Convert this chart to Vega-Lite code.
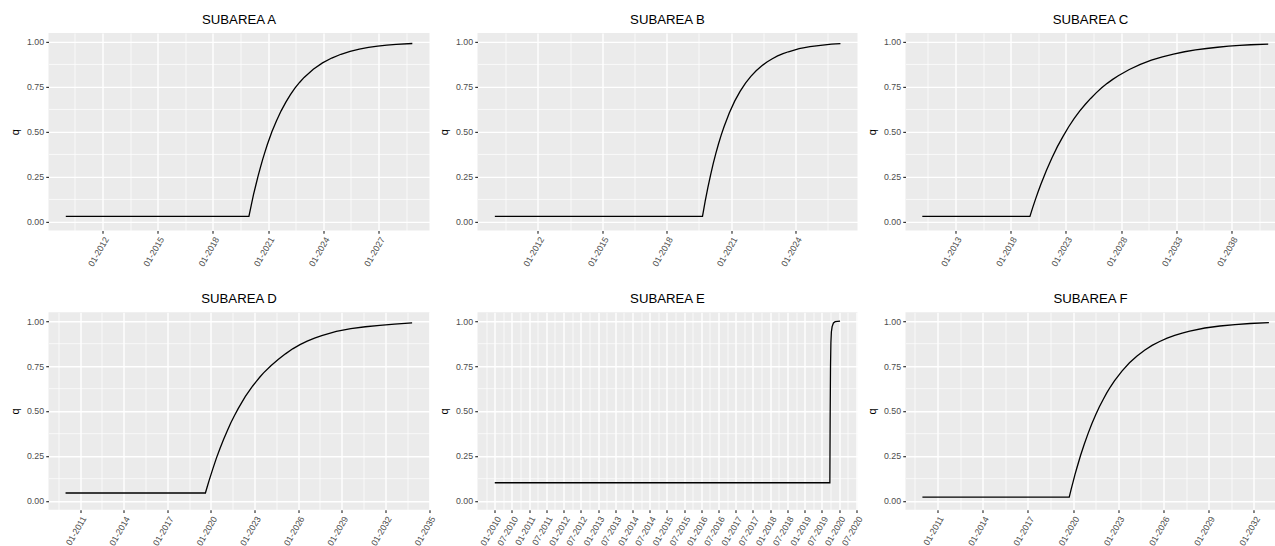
{
  "$schema": "https://vega.github.io/schema/vega-lite/v6.json",
  "background": "white",
  "padding": {"left": 9.5, "top": 12.9, "right": 0, "bottom": 0},
  "autosize": {"type": "pad"},
  "columns": 3,
  "spacing": {"row": 81.3, "column": 48},
  "bounds": "flush",
  "align": "each",
  "datasets": {
    "A": [
      {"date": "2010-01-01T00:00", "q": 0.028},
      {"date": "2019-12-15T00:00", "q": 0.028},
      {"date": "2020-01-30T00:00", "q": 0.090},
      {"date": "2020-03-15T00:00", "q": 0.149},
      {"date": "2020-05-01T00:00", "q": 0.203},
      {"date": "2020-06-15T00:00", "q": 0.254},
      {"date": "2020-08-01T00:00", "q": 0.302},
      {"date": "2020-09-15T00:00", "q": 0.347},
      {"date": "2020-10-31T00:00", "q": 0.389},
      {"date": "2020-12-15T00:00", "q": 0.428},
      {"date": "2021-03-15T00:00", "q": 0.499},
      {"date": "2021-06-15T00:00", "q": 0.561},
      {"date": "2021-09-15T00:00", "q": 0.616},
      {"date": "2021-12-15T00:00", "q": 0.663},
      {"date": "2022-03-15T00:00", "q": 0.705},
      {"date": "2022-06-15T00:00", "q": 0.742},
      {"date": "2022-09-15T00:00", "q": 0.774},
      {"date": "2022-12-15T00:00", "q": 0.802},
      {"date": "2023-06-15T00:00", "q": 0.848},
      {"date": "2023-12-15T00:00", "q": 0.883},
      {"date": "2024-06-15T00:00", "q": 0.910},
      {"date": "2024-12-15T00:00", "q": 0.931},
      {"date": "2025-06-15T00:00", "q": 0.947},
      {"date": "2025-12-15T00:00", "q": 0.960},
      {"date": "2026-06-15T00:00", "q": 0.969},
      {"date": "2026-12-15T00:00", "q": 0.976},
      {"date": "2027-06-15T00:00", "q": 0.982},
      {"date": "2027-12-15T00:00", "q": 0.986},
      {"date": "2028-11-01T00:00", "q": 0.991}
    ],
    "B": [
      {"date": "2010-01-01T00:00", "q": 0.028},
      {"date": "2019-09-01T00:00", "q": 0.028},
      {"date": "2019-10-16T00:00", "q": 0.112},
      {"date": "2019-12-01T00:00", "q": 0.188},
      {"date": "2020-01-16T00:00", "q": 0.258},
      {"date": "2020-03-01T00:00", "q": 0.322},
      {"date": "2020-04-16T00:00", "q": 0.380},
      {"date": "2020-06-01T00:00", "q": 0.434},
      {"date": "2020-07-16T00:00", "q": 0.482},
      {"date": "2020-09-01T00:00", "q": 0.527},
      {"date": "2020-12-01T00:00", "q": 0.605},
      {"date": "2021-03-01T00:00", "q": 0.670},
      {"date": "2021-06-01T00:00", "q": 0.724},
      {"date": "2021-09-01T00:00", "q": 0.770},
      {"date": "2021-12-01T00:00", "q": 0.808},
      {"date": "2022-03-01T00:00", "q": 0.839},
      {"date": "2022-06-01T00:00", "q": 0.866},
      {"date": "2022-09-01T00:00", "q": 0.888},
      {"date": "2022-12-01T00:00", "q": 0.906},
      {"date": "2023-03-01T00:00", "q": 0.922},
      {"date": "2023-06-01T00:00", "q": 0.935},
      {"date": "2023-09-01T00:00", "q": 0.945},
      {"date": "2024-03-01T00:00", "q": 0.962},
      {"date": "2024-09-01T00:00", "q": 0.973},
      {"date": "2025-03-01T00:00", "q": 0.981},
      {"date": "2025-09-01T00:00", "q": 0.987},
      {"date": "2026-02-01T00:00", "q": 0.990}
    ],
    "C": [
      {"date": "2010-01-01T00:00", "q": 0.028},
      {"date": "2019-10-01T00:00", "q": 0.028},
      {"date": "2020-01-01T00:00", "q": 0.077},
      {"date": "2020-04-01T00:00", "q": 0.123},
      {"date": "2020-07-01T00:00", "q": 0.167},
      {"date": "2020-10-01T00:00", "q": 0.208},
      {"date": "2021-04-01T00:00", "q": 0.285},
      {"date": "2021-10-01T00:00", "q": 0.355},
      {"date": "2022-04-01T00:00", "q": 0.418},
      {"date": "2022-10-01T00:00", "q": 0.474},
      {"date": "2023-04-01T00:00", "q": 0.526},
      {"date": "2023-10-01T00:00", "q": 0.572},
      {"date": "2024-04-01T00:00", "q": 0.614},
      {"date": "2024-10-01T00:00", "q": 0.651},
      {"date": "2025-04-01T00:00", "q": 0.685},
      {"date": "2025-10-01T00:00", "q": 0.716},
      {"date": "2026-04-01T00:00", "q": 0.744},
      {"date": "2026-10-01T00:00", "q": 0.769},
      {"date": "2027-04-01T00:00", "q": 0.791},
      {"date": "2027-10-01T00:00", "q": 0.811},
      {"date": "2028-10-01T00:00", "q": 0.846},
      {"date": "2029-10-01T00:00", "q": 0.875},
      {"date": "2030-10-01T00:00", "q": 0.898},
      {"date": "2031-10-01T00:00", "q": 0.917},
      {"date": "2032-10-01T00:00", "q": 0.932},
      {"date": "2033-10-01T00:00", "q": 0.945},
      {"date": "2034-10-01T00:00", "q": 0.955},
      {"date": "2035-10-01T00:00", "q": 0.963},
      {"date": "2036-10-01T00:00", "q": 0.970},
      {"date": "2037-10-01T00:00", "q": 0.976},
      {"date": "2038-10-01T00:00", "q": 0.980},
      {"date": "2039-10-01T00:00", "q": 0.984},
      {"date": "2041-05-01T00:00", "q": 0.988}
    ],
    "D": [
      {"date": "2010-01-01T00:00", "q": 0.043},
      {"date": "2019-08-15T00:00", "q": 0.043},
      {"date": "2019-09-30T00:00", "q": 0.078},
      {"date": "2019-11-15T00:00", "q": 0.112},
      {"date": "2020-02-15T00:00", "q": 0.176},
      {"date": "2020-05-15T00:00", "q": 0.236},
      {"date": "2020-08-15T00:00", "q": 0.291},
      {"date": "2020-11-15T00:00", "q": 0.342},
      {"date": "2021-02-15T00:00", "q": 0.390},
      {"date": "2021-05-15T00:00", "q": 0.434},
      {"date": "2021-08-15T00:00", "q": 0.475},
      {"date": "2021-11-15T00:00", "q": 0.513},
      {"date": "2022-02-15T00:00", "q": 0.548},
      {"date": "2022-05-15T00:00", "q": 0.581},
      {"date": "2022-08-15T00:00", "q": 0.611},
      {"date": "2022-11-15T00:00", "q": 0.639},
      {"date": "2023-02-15T00:00", "q": 0.665},
      {"date": "2023-05-15T00:00", "q": 0.689},
      {"date": "2023-08-15T00:00", "q": 0.712},
      {"date": "2024-02-15T00:00", "q": 0.752},
      {"date": "2024-08-15T00:00", "q": 0.786},
      {"date": "2025-02-15T00:00", "q": 0.818},
      {"date": "2025-08-15T00:00", "q": 0.846},
      {"date": "2026-02-15T00:00", "q": 0.869},
      {"date": "2026-08-15T00:00", "q": 0.889},
      {"date": "2027-02-15T00:00", "q": 0.906},
      {"date": "2027-08-15T00:00", "q": 0.920},
      {"date": "2028-08-15T00:00", "q": 0.943},
      {"date": "2029-08-15T00:00", "q": 0.958},
      {"date": "2030-08-15T00:00", "q": 0.969},
      {"date": "2031-08-15T00:00", "q": 0.977},
      {"date": "2032-08-15T00:00", "q": 0.983},
      {"date": "2033-11-01T00:00", "q": 0.990}
    ],
    "E": [
      {"date": "2010-01-01T00:00", "q": 0.1},
      {"date": "2019-09-24T00:00", "q": 0.1},
      {"date": "2019-09-27T00:00", "q": 0.45},
      {"date": "2019-10-01T00:00", "q": 0.75},
      {"date": "2019-10-05T00:00", "q": 0.88},
      {"date": "2019-10-10T00:00", "q": 0.94},
      {"date": "2019-10-18T00:00", "q": 0.97},
      {"date": "2019-11-01T00:00", "q": 0.99},
      {"date": "2019-11-20T00:00", "q": 0.997},
      {"date": "2019-12-15T00:00", "q": 0.999},
      {"date": "2020-01-10T00:00", "q": 1.0}
    ],
    "F": [
      {"date": "2010-01-01T00:00", "q": 0.02},
      {"date": "2019-10-01T00:00", "q": 0.02},
      {"date": "2019-11-16T00:00", "q": 0.063},
      {"date": "2020-01-01T00:00", "q": 0.104},
      {"date": "2020-02-15T00:00", "q": 0.144},
      {"date": "2020-04-01T00:00", "q": 0.181},
      {"date": "2020-07-01T00:00", "q": 0.252},
      {"date": "2020-10-01T00:00", "q": 0.316},
      {"date": "2021-01-01T00:00", "q": 0.375},
      {"date": "2021-04-01T00:00", "q": 0.429},
      {"date": "2021-07-01T00:00", "q": 0.478},
      {"date": "2021-10-01T00:00", "q": 0.523},
      {"date": "2022-01-01T00:00", "q": 0.564},
      {"date": "2022-04-01T00:00", "q": 0.602},
      {"date": "2022-07-01T00:00", "q": 0.636},
      {"date": "2022-10-01T00:00", "q": 0.667},
      {"date": "2023-04-01T00:00", "q": 0.722},
      {"date": "2023-10-01T00:00", "q": 0.768},
      {"date": "2024-04-01T00:00", "q": 0.806},
      {"date": "2024-10-01T00:00", "q": 0.838},
      {"date": "2025-04-01T00:00", "q": 0.865},
      {"date": "2025-10-01T00:00", "q": 0.887},
      {"date": "2026-04-01T00:00", "q": 0.906},
      {"date": "2026-10-01T00:00", "q": 0.921},
      {"date": "2027-04-01T00:00", "q": 0.934},
      {"date": "2027-10-01T00:00", "q": 0.945},
      {"date": "2028-10-01T00:00", "q": 0.962},
      {"date": "2029-10-01T00:00", "q": 0.973},
      {"date": "2030-10-01T00:00", "q": 0.981},
      {"date": "2031-10-01T00:00", "q": 0.987},
      {"date": "2033-01-01T00:00", "q": 0.992}
    ]
  },
  "concat": [
    {
      "title": "SUBAREA A",
      "width": 381, "height": 197.5,
      "data": {"name": "A"},
      "mark": {"type": "line", "color": "#000000", "strokeWidth": 1.3},
      "encoding": {
        "x": {"field": "date", "type": "temporal", "title": null,
          "scale": {"domain": [{"year": 2009, "month": 1, "date": 23}, {"year": 2029, "month": 10, "date": 8}], "nice": false},
          "axis": {
            "values": [{"year": 2010, "month": 7, "date": 2}, {"year": 2012, "month": 1, "date": 1}, {"year": 2013, "month": 7, "date": 2}, {"year": 2015, "month": 1, "date": 1}, {"year": 2016, "month": 7, "date": 2}, {"year": 2018, "month": 1, "date": 1}, {"year": 2019, "month": 7, "date": 2}, {"year": 2021, "month": 1, "date": 1}, {"year": 2022, "month": 7, "date": 2}, {"year": 2024, "month": 1, "date": 1}, {"year": 2025, "month": 7, "date": 2}, {"year": 2027, "month": 1, "date": 1}, {"year": 2028, "month": 7, "date": 2}],
            "labelExpr": "month(datum.value) == 0 ? timeFormat(datum.value, '%m-%Y') : ''",
            "gridWidth": {"condition": {"test": "month(datum.value) == 0", "value": 1.4}, "value": 0.7},
            "tickOpacity": {"condition": {"test": "month(datum.value) == 0", "value": 1}, "value": 0}
          }
        },
        "y": {"field": "q", "type": "quantitative", "title": "q", "scale": {"domain": [-0.05, 1.05], "nice": false, "zero": false},
          "axis": {
            "values": [0, 0.125, 0.25, 0.375, 0.5, 0.625, 0.75, 0.875, 1],
            "labelExpr": "indexof([0, 0.25, 0.5, 0.75, 1], datum.value) >= 0 ? format(datum.value, '.2f') : ''",
            "gridWidth": {"condition": {"test": "indexof([0, 0.25, 0.5, 0.75, 1], datum.value) >= 0", "value": 1.4}, "value": 0.7},
            "tickOpacity": {"condition": {"test": "indexof([0, 0.25, 0.5, 0.75, 1], datum.value) >= 0", "value": 1}, "value": 0}
          }
        }
      }
    },
    {
      "title": "SUBAREA B",
      "width": 380, "height": 197.5,
      "data": {"name": "B"},
      "mark": {"type": "line", "color": "#000000", "strokeWidth": 1.3},
      "encoding": {
        "x": {"field": "date", "type": "temporal", "title": null,
          "scale": {"domain": [{"year": 2009, "month": 3, "date": 12}, {"year": 2026, "month": 11, "date": 18}], "nice": false},
          "axis": {
            "values": [{"year": 2010, "month": 7, "date": 2}, {"year": 2012, "month": 1, "date": 1}, {"year": 2013, "month": 7, "date": 2}, {"year": 2015, "month": 1, "date": 1}, {"year": 2016, "month": 7, "date": 2}, {"year": 2018, "month": 1, "date": 1}, {"year": 2019, "month": 7, "date": 2}, {"year": 2021, "month": 1, "date": 1}, {"year": 2022, "month": 7, "date": 2}, {"year": 2024, "month": 1, "date": 1}, {"year": 2025, "month": 7, "date": 2}],
            "labelExpr": "month(datum.value) == 0 ? timeFormat(datum.value, '%m-%Y') : ''",
            "gridWidth": {"condition": {"test": "month(datum.value) == 0", "value": 1.4}, "value": 0.7},
            "tickOpacity": {"condition": {"test": "month(datum.value) == 0", "value": 1}, "value": 0}
          }
        },
        "y": {"field": "q", "type": "quantitative", "title": "q", "scale": {"domain": [-0.05, 1.05], "nice": false, "zero": false},
          "axis": {
            "values": [0, 0.125, 0.25, 0.375, 0.5, 0.625, 0.75, 0.875, 1],
            "labelExpr": "indexof([0, 0.25, 0.5, 0.75, 1], datum.value) >= 0 ? format(datum.value, '.2f') : ''",
            "gridWidth": {"condition": {"test": "indexof([0, 0.25, 0.5, 0.75, 1], datum.value) >= 0", "value": 1.4}, "value": 0.7},
            "tickOpacity": {"condition": {"test": "indexof([0, 0.25, 0.5, 0.75, 1], datum.value) >= 0", "value": 1}, "value": 0}
          }
        }
      }
    },
    {
      "title": "SUBAREA C",
      "width": 370, "height": 197.5,
      "data": {"name": "C"},
      "mark": {"type": "line", "color": "#000000", "strokeWidth": 1.3},
      "encoding": {
        "x": {"field": "date", "type": "temporal", "title": null,
          "scale": {"domain": [{"year": 2008, "month": 6, "date": 24}, {"year": 2041, "month": 12, "date": 28}], "nice": false},
          "axis": {
            "values": [{"year": 2010, "month": 7, "date": 2}, {"year": 2013, "month": 1, "date": 1}, {"year": 2015, "month": 7, "date": 2}, {"year": 2018, "month": 1, "date": 1}, {"year": 2020, "month": 7, "date": 2}, {"year": 2023, "month": 1, "date": 1}, {"year": 2025, "month": 7, "date": 2}, {"year": 2028, "month": 1, "date": 1}, {"year": 2030, "month": 7, "date": 2}, {"year": 2033, "month": 1, "date": 1}, {"year": 2035, "month": 7, "date": 2}, {"year": 2038, "month": 1, "date": 1}, {"year": 2040, "month": 7, "date": 2}],
            "labelExpr": "month(datum.value) == 0 ? timeFormat(datum.value, '%m-%Y') : ''",
            "gridWidth": {"condition": {"test": "month(datum.value) == 0", "value": 1.4}, "value": 0.7},
            "tickOpacity": {"condition": {"test": "month(datum.value) == 0", "value": 1}, "value": 0}
          }
        },
        "y": {"field": "q", "type": "quantitative", "title": "q", "scale": {"domain": [-0.05, 1.05], "nice": false, "zero": false},
          "axis": {
            "values": [0, 0.125, 0.25, 0.375, 0.5, 0.625, 0.75, 0.875, 1],
            "labelExpr": "indexof([0, 0.25, 0.5, 0.75, 1], datum.value) >= 0 ? format(datum.value, '.2f') : ''",
            "gridWidth": {"condition": {"test": "indexof([0, 0.25, 0.5, 0.75, 1], datum.value) >= 0", "value": 1.4}, "value": 0.7},
            "tickOpacity": {"condition": {"test": "indexof([0, 0.25, 0.5, 0.75, 1], datum.value) >= 0", "value": 1}, "value": 0}
          }
        }
      }
    },
    {
      "title": "SUBAREA D",
      "width": 381, "height": 197.5,
      "data": {"name": "D"},
      "mark": {"type": "line", "color": "#000000", "strokeWidth": 1.3},
      "encoding": {
        "x": {"field": "date", "type": "temporal", "title": null,
          "scale": {"domain": [{"year": 2008, "month": 10, "date": 30}, {"year": 2035, "month": 1, "date": 12}], "nice": false},
          "axis": {
            "values": [{"year": 2009, "month": 7, "date": 2}, {"year": 2011, "month": 1, "date": 1}, {"year": 2012, "month": 7, "date": 2}, {"year": 2014, "month": 1, "date": 1}, {"year": 2015, "month": 7, "date": 2}, {"year": 2017, "month": 1, "date": 1}, {"year": 2018, "month": 7, "date": 2}, {"year": 2020, "month": 1, "date": 1}, {"year": 2021, "month": 7, "date": 2}, {"year": 2023, "month": 1, "date": 1}, {"year": 2024, "month": 7, "date": 2}, {"year": 2026, "month": 1, "date": 1}, {"year": 2027, "month": 7, "date": 2}, {"year": 2029, "month": 1, "date": 1}, {"year": 2030, "month": 7, "date": 2}, {"year": 2032, "month": 1, "date": 1}, {"year": 2033, "month": 7, "date": 2}, {"year": 2035, "month": 1, "date": 1}],
            "labelExpr": "month(datum.value) == 0 ? timeFormat(datum.value, '%m-%Y') : ''",
            "gridWidth": {"condition": {"test": "month(datum.value) == 0", "value": 1.4}, "value": 0.7},
            "tickOpacity": {"condition": {"test": "month(datum.value) == 0", "value": 1}, "value": 0}
          }
        },
        "y": {"field": "q", "type": "quantitative", "title": "q", "scale": {"domain": [-0.05, 1.05], "nice": false, "zero": false},
          "axis": {
            "values": [0, 0.125, 0.25, 0.375, 0.5, 0.625, 0.75, 0.875, 1],
            "labelExpr": "indexof([0, 0.25, 0.5, 0.75, 1], datum.value) >= 0 ? format(datum.value, '.2f') : ''",
            "gridWidth": {"condition": {"test": "indexof([0, 0.25, 0.5, 0.75, 1], datum.value) >= 0", "value": 1.4}, "value": 0.7},
            "tickOpacity": {"condition": {"test": "indexof([0, 0.25, 0.5, 0.75, 1], datum.value) >= 0", "value": 1}, "value": 0}
          }
        }
      }
    },
    {
      "title": "SUBAREA E",
      "width": 380, "height": 197.5,
      "data": {"name": "E"},
      "mark": {"type": "line", "color": "#000000", "strokeWidth": 1.3},
      "encoding": {
        "x": {"field": "date", "type": "temporal", "title": null,
          "scale": {"domain": [{"year": 2009, "month": 7, "date": 2}, {"year": 2020, "month": 7, "date": 13}], "nice": false},
          "axis": {
            "values": [{"year": 2009, "month": 10, "date": 1}, {"year": 2010, "month": 1, "date": 1}, {"year": 2010, "month": 4, "date": 1}, {"year": 2010, "month": 7, "date": 1}, {"year": 2010, "month": 10, "date": 1}, {"year": 2011, "month": 1, "date": 1}, {"year": 2011, "month": 4, "date": 1}, {"year": 2011, "month": 7, "date": 1}, {"year": 2011, "month": 10, "date": 1}, {"year": 2012, "month": 1, "date": 1}, {"year": 2012, "month": 4, "date": 1}, {"year": 2012, "month": 7, "date": 1}, {"year": 2012, "month": 10, "date": 1}, {"year": 2013, "month": 1, "date": 1}, {"year": 2013, "month": 4, "date": 1}, {"year": 2013, "month": 7, "date": 1}, {"year": 2013, "month": 10, "date": 1}, {"year": 2014, "month": 1, "date": 1}, {"year": 2014, "month": 4, "date": 1}, {"year": 2014, "month": 7, "date": 1}, {"year": 2014, "month": 10, "date": 1}, {"year": 2015, "month": 1, "date": 1}, {"year": 2015, "month": 4, "date": 1}, {"year": 2015, "month": 7, "date": 1}, {"year": 2015, "month": 10, "date": 1}, {"year": 2016, "month": 1, "date": 1}, {"year": 2016, "month": 4, "date": 1}, {"year": 2016, "month": 7, "date": 1}, {"year": 2016, "month": 10, "date": 1}, {"year": 2017, "month": 1, "date": 1}, {"year": 2017, "month": 4, "date": 1}, {"year": 2017, "month": 7, "date": 1}, {"year": 2017, "month": 10, "date": 1}, {"year": 2018, "month": 1, "date": 1}, {"year": 2018, "month": 4, "date": 1}, {"year": 2018, "month": 7, "date": 1}, {"year": 2018, "month": 10, "date": 1}, {"year": 2019, "month": 1, "date": 1}, {"year": 2019, "month": 4, "date": 1}, {"year": 2019, "month": 7, "date": 1}, {"year": 2019, "month": 10, "date": 1}, {"year": 2020, "month": 1, "date": 1}, {"year": 2020, "month": 4, "date": 1}, {"year": 2020, "month": 7, "date": 1}],
            "labelExpr": "month(datum.value) % 6 == 0 ? timeFormat(datum.value, '%m-%Y') : ''",
            "gridWidth": {"condition": {"test": "month(datum.value) % 6 == 0", "value": 1.4}, "value": 0.7},
            "tickOpacity": {"condition": {"test": "month(datum.value) % 6 == 0", "value": 1}, "value": 0}
          }
        },
        "y": {"field": "q", "type": "quantitative", "title": "q", "scale": {"domain": [-0.05, 1.05], "nice": false, "zero": false},
          "axis": {
            "values": [0, 0.125, 0.25, 0.375, 0.5, 0.625, 0.75, 0.875, 1],
            "labelExpr": "indexof([0, 0.25, 0.5, 0.75, 1], datum.value) >= 0 ? format(datum.value, '.2f') : ''",
            "gridWidth": {"condition": {"test": "indexof([0, 0.25, 0.5, 0.75, 1], datum.value) >= 0", "value": 1.4}, "value": 0.7},
            "tickOpacity": {"condition": {"test": "indexof([0, 0.25, 0.5, 0.75, 1], datum.value) >= 0", "value": 1}, "value": 0}
          }
        }
      }
    },
    {
      "title": "SUBAREA F",
      "width": 370, "height": 197.5,
      "data": {"name": "F"},
      "mark": {"type": "line", "color": "#000000", "strokeWidth": 1.3},
      "encoding": {
        "x": {"field": "date", "type": "temporal", "title": null,
          "scale": {"domain": [{"year": 2008, "month": 11, "date": 17}, {"year": 2033, "month": 6, "date": 10}], "nice": false},
          "axis": {
            "values": [{"year": 2009, "month": 7, "date": 2}, {"year": 2011, "month": 1, "date": 1}, {"year": 2012, "month": 7, "date": 2}, {"year": 2014, "month": 1, "date": 1}, {"year": 2015, "month": 7, "date": 2}, {"year": 2017, "month": 1, "date": 1}, {"year": 2018, "month": 7, "date": 2}, {"year": 2020, "month": 1, "date": 1}, {"year": 2021, "month": 7, "date": 2}, {"year": 2023, "month": 1, "date": 1}, {"year": 2024, "month": 7, "date": 2}, {"year": 2026, "month": 1, "date": 1}, {"year": 2027, "month": 7, "date": 2}, {"year": 2029, "month": 1, "date": 1}, {"year": 2030, "month": 7, "date": 2}, {"year": 2032, "month": 1, "date": 1}],
            "labelExpr": "month(datum.value) == 0 ? timeFormat(datum.value, '%m-%Y') : ''",
            "gridWidth": {"condition": {"test": "month(datum.value) == 0", "value": 1.4}, "value": 0.7},
            "tickOpacity": {"condition": {"test": "month(datum.value) == 0", "value": 1}, "value": 0}
          }
        },
        "y": {"field": "q", "type": "quantitative", "title": "q", "scale": {"domain": [-0.05, 1.05], "nice": false, "zero": false},
          "axis": {
            "values": [0, 0.125, 0.25, 0.375, 0.5, 0.625, 0.75, 0.875, 1],
            "labelExpr": "indexof([0, 0.25, 0.5, 0.75, 1], datum.value) >= 0 ? format(datum.value, '.2f') : ''",
            "gridWidth": {"condition": {"test": "indexof([0, 0.25, 0.5, 0.75, 1], datum.value) >= 0", "value": 1.4}, "value": 0.7},
            "tickOpacity": {"condition": {"test": "indexof([0, 0.25, 0.5, 0.75, 1], datum.value) >= 0", "value": 1}, "value": 0}
          }
        }
      }
    }
  ],
  "config": {
    "view": {"fill": "#EBEBEB", "stroke": null},
    "font": "Liberation Sans",
    "title": {"font": "Liberation Sans", "fontSize": 13.2, "fontWeight": "normal", "color": "#000000", "anchor": "middle", "frame": "group", "offset": 5.6},
    "axis": {
      "domain": false,
      "grid": true,
      "gridColor": "#FFFFFF",
      "tickColor": "#333333",
      "tickSize": 2.75,
      "tickWidth": 1.2,
      "labelColor": "#4D4D4D",
      "labelFont": "Liberation Sans",
      "labelFontSize": 8.8,
      "labelPadding": 2.2,
      "labelOverlap": false,
      "labelFlush": false,
      "labelBound": false,
      "titleFont": "Liberation Sans",
      "titleFontSize": 11,
      "titleFontWeight": "normal",
      "titleColor": "#000000"
    },
    "axisX": {
      "labelAngle": -60,
      "labelAlign": "right",
      "labelBaseline": "top"
    },
    "axisY": {
      "titlePadding": 5.5
    }
  }
}
